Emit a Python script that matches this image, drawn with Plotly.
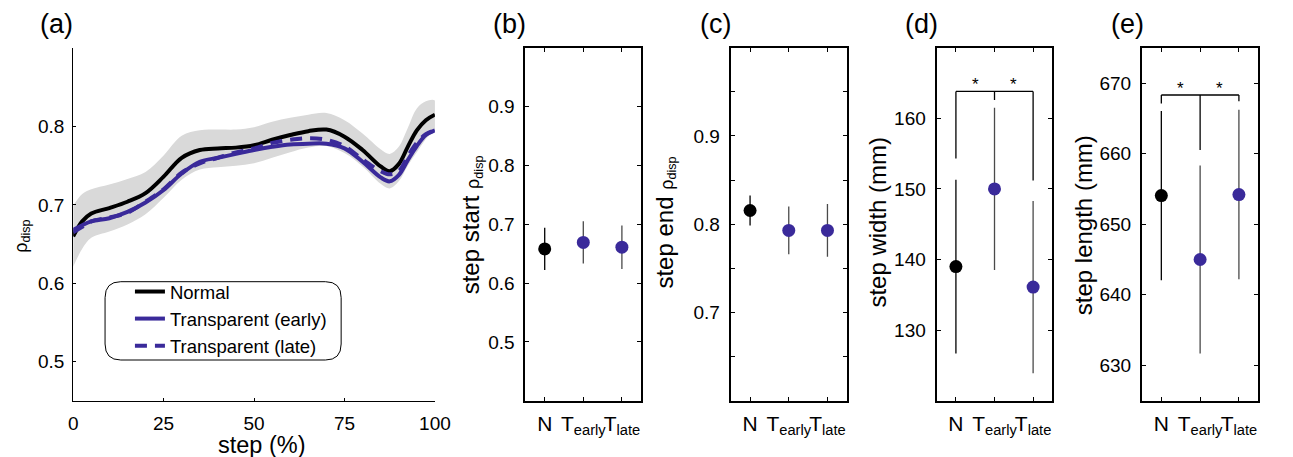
import plotly.graph_objects as go

W, H = 1293, 457
FONT = "Liberation Sans, Arial, Helvetica, sans-serif"
BLUE = "#3a2a9a"
BAND = "#d9d9d9"
ERR_GRAY = "#4a4a4a"

# ---------------- data: panel (a) ----------------
step_pct = [0, 2.5, 5, 10, 15, 20, 25, 30, 35, 40, 45, 50, 55, 60, 65, 70,
            75, 80, 85, 87.5, 90, 92.5, 95, 97.5, 100]
normal_mean = [0.660, 0.679, 0.689, 0.696, 0.704, 0.715, 0.736, 0.760, 0.770,
               0.772, 0.773, 0.776, 0.783, 0.789, 0.794, 0.796, 0.787, 0.770,
               0.749, 0.743, 0.752, 0.774, 0.795, 0.808, 0.815]
normal_sd = [0.039, 0.035, 0.031, 0.030, 0.029, 0.027, 0.027, 0.028, 0.025,
             0.024, 0.023, 0.023, 0.023, 0.022, 0.021, 0.021, 0.021, 0.021,
             0.022, 0.022, 0.022, 0.024, 0.028, 0.024, 0.018]
early_mean = [0.668, 0.674, 0.679, 0.683, 0.691, 0.703, 0.719, 0.740, 0.755,
              0.760, 0.765, 0.770, 0.774, 0.777, 0.778, 0.778, 0.772, 0.755,
              0.735, 0.730, 0.738, 0.757, 0.775, 0.789, 0.795]
late_mean = [0.665, 0.672, 0.679, 0.684, 0.690, 0.704, 0.720, 0.741, 0.753,
             0.760, 0.767, 0.772, 0.779, 0.783, 0.785, 0.783, 0.775, 0.758,
             0.743, 0.739, 0.743, 0.762, 0.779, 0.790, 0.795]

# ---------------- data: panels (b)-(e) ----------------
cat_pos = [1, 2, 3]
cat_labels = ["N", "T<sub>early</sub>", "T<sub>late</sub>"]

start_mean = [0.658, 0.669, 0.661]
start_err = [0.036, 0.036, 0.037]
end_mean = [0.8155, 0.793, 0.793]
end_err = [0.017, 0.027, 0.030]
width_mean = [139.0, 150.0, 136.1]
width_err = [12.3, 11.5, 12.2]
length_mean = [654.05, 645.0, 654.2]
length_err = [12.0, 13.3, 12.0]

width_bracket_y = 163.8
width_bracket_ends = [154.3, 162.6, 151.2]
length_bracket_y = 668.3
length_bracket_ends = [667.1, 660.5, 667.4]


def xd(l, r):
    return [l / W, r / W]


def yd(t, b):
    return [1 - b / H, 1 - t / H]


fig = go.Figure()

# ---- panel (a) ----
upper = [m + s for m, s in zip(normal_mean, normal_sd)]
lower = [m - s for m, s in zip(normal_mean, normal_sd)]
fig.add_trace(go.Scatter(
    x=step_pct + step_pct[::-1], y=upper + lower[::-1],
    fill="toself", fillcolor=BAND, line=dict(width=0, shape="spline"),
    mode="lines", showlegend=False, hoverinfo="skip", xaxis="x", yaxis="y"))
fig.add_trace(go.Scatter(
    x=step_pct, y=normal_mean, mode="lines", name="Normal",
    line=dict(color="black", width=4, shape="spline"), xaxis="x", yaxis="y"))
fig.add_trace(go.Scatter(
    x=step_pct, y=early_mean, mode="lines", name="Transparent (early)",
    line=dict(color=BLUE, width=4, shape="spline"), xaxis="x", yaxis="y"))
fig.add_trace(go.Scatter(
    x=step_pct, y=late_mean, mode="lines", name="Transparent (late)",
    line=dict(color=BLUE, width=4, shape="spline", dash="12px,8px"),
    xaxis="x", yaxis="y"))

# ---- panels (b)-(e) ----
panels = [
    ("x2", "y2", start_mean, start_err),
    ("x3", "y3", end_mean, end_err),
    ("x4", "y4", width_mean, width_err),
    ("x5", "y5", length_mean, length_err),
]
for xa, ya, mean, err in panels:
    fig.add_trace(go.Scatter(
        x=cat_pos[:1], y=mean[:1], mode="markers", showlegend=False,
        marker=dict(color="black", size=13),
        error_y=dict(type="data", array=err[:1], color="black",
                     thickness=1.3, width=0),
        xaxis=xa, yaxis=ya))
    fig.add_trace(go.Scatter(
        x=cat_pos[1:], y=mean[1:], mode="markers", showlegend=False,
        marker=dict(color=BLUE, size=13),
        error_y=dict(type="data", array=err[1:], color=ERR_GRAY,
                     thickness=1.3, width=0),
        xaxis=xa, yaxis=ya))

shapes = []
annotations = []
for xa, ya, by, ends in [("x4", "y4", width_bracket_y, width_bracket_ends),
                         ("x5", "y5", length_bracket_y, length_bracket_ends)]:
    shapes.append(dict(type="line", xref=xa, yref=ya, x0=cat_pos[0], x1=cat_pos[2],
                       y0=by, y1=by, line=dict(color="black", width=1.3)))
    for cx, e in zip(cat_pos, ends):
        shapes.append(dict(type="line", xref=xa, yref=ya, x0=cx, x1=cx,
                           y0=by, y1=e, line=dict(color="black", width=1.3)))
    for ax_ in [1.5, 2.5]:
        annotations.append(dict(x=ax_, y=by, xref=xa, yref=ya, text="*",
                                showarrow=False, yanchor="bottom", yshift=-5,
                                font=dict(size=17, color="black", family=FONT)))

# rounded legend box (pixel geometry -> paper)
L, R, T, B, r = 101.7, 341.7, 281.7, 360.0, 16


def px(p):
    return p / W


def py(p):
    return 1 - p / H


path = (f"M {px(L + r)},{py(T)} L {px(R - r)},{py(T)} Q {px(R)},{py(T)} {px(R)},{py(T + r)} "
        f"L {px(R)},{py(B - r)} Q {px(R)},{py(B)} {px(R - r)},{py(B)} "
        f"L {px(L + r)},{py(B)} Q {px(L)},{py(B)} {px(L)},{py(B - r)} "
        f"L {px(L)},{py(T + r)} Q {px(L)},{py(T)} {px(L + r)},{py(T)} Z")
shapes.append(dict(type="path", xref="paper", yref="paper", path=path,
                   line=dict(color="black", width=1), fillcolor="rgba(0,0,0,0)"))


def ann(text, x, y, size, angle=0):
    annotations.append(dict(text=text, x=px(x), y=py(y), xref="paper", yref="paper",
                            showarrow=False, textangle=angle, xanchor="center",
                            yanchor="middle", font=dict(size=size, color="black", family=FONT)))


ann("(a)", 52.3, 24, 27)
ann("(b)", 513.3, 24, 27)
ann("(c)", 722.3, 24, 27)
ann("(d)", 931.7, 24, 27)
ann("(e)", 1140.7, 24, 27)
ann("step (%)", 261.7, 445, 23.5)
ann("ρ<sub>disp</sub>", 17, 236, 18, -90)
ann("step start <span style='font-size:18px'>ρ<sub>disp</sub></span>", 474, 225, 24, -90)
ann("step end <span style='font-size:18px'>ρ<sub>disp</sub></span>", 671.5, 223, 24, -90)
ann("step width (mm)", 886, 222, 24, -90)
ann("step length (mm)", 1096, 225, 24, -90)

tickfont = dict(size=19, color="black", family=FONT)
catfont = dict(size=21, color="black", family=FONT)

layout = dict(
    width=W, height=H, margin=dict(l=0, r=0, t=0, b=0),
    paper_bgcolor="white", plot_bgcolor="white",
    font=dict(family=FONT, color="black"),
    shapes=shapes, annotations=annotations,
    showlegend=True,
    legend=dict(x=px(127), y=py(273), xanchor="left", yanchor="top",
                bgcolor="rgba(0,0,0,0)", borderwidth=0,
                font=dict(size=18.5, color="black", family=FONT),
                tracegroupgap=0),
    xaxis=dict(domain=xd(69.3, 437), range=[0, 100], tickvals=[0, 25, 50, 75, 100],
               ticks="inside", ticklen=3, tickcolor="black", showline=True,
               linecolor="black", linewidth=1, showgrid=False, zeroline=False,
               tickfont=tickfont, anchor="y", ticklabelstandoff=5, tickangle=0),
    yaxis=dict(domain=yd(48, 401), range=[0.45, 0.9], tickvals=[0.5, 0.6, 0.7, 0.8],
               ticktext=["0.5", "0.6", "0.7", "0.8"],
               ticks="inside", ticklen=3, tickcolor="black", showline=True,
               linecolor="black", linewidth=1, showgrid=False, zeroline=False,
               tickfont=tickfont, anchor="x", ticklabelstandoff=4),
)

box_specs = [
    (2, (529, 646.7), [0.4, 1.0], [0.5, 0.6, 0.7, 0.8, 0.9], ["0.5", "0.6", "0.7", "0.8", "0.9"]),
    (3, (737.7, 855.7), [0.6, 1.0], [0.65, 0.7, 0.75, 0.8, 0.85, 0.9, 0.95],
     ["", "0.7", "", "0.8", "", "0.9", ""]),
    (4, (947, 1064.7), [120, 170], [130, 140, 150, 160], ["130", "140", "150", "160"]),
    (5, (1155.7, 1274), [625, 675], [630, 640, 650, 660, 670], ["630", "640", "650", "660", "670"]),
]
for i, (lft, rgt), yr, tv, tt in box_specs:
    layout[f"xaxis{i}"] = dict(domain=xd(lft, rgt), range=[0.5, 3.5], tickvals=cat_pos,
                               ticktext=cat_labels, ticks="inside", ticklen=4,
                               tickcolor="black", showline=True, mirror="allticks",
                               linecolor="black", linewidth=2, showgrid=False,
                               zeroline=False, tickfont=catfont, anchor=f"y{i}",
                               ticklabelstandoff=3, tickangle=0)
    layout[f"yaxis{i}"] = dict(domain=yd(47.7, 400.7), range=yr, tickvals=tv, ticktext=tt,
                               ticks="inside", ticklen=4, tickcolor="black",
                               showline=True, mirror="allticks", linecolor="black",
                               linewidth=2, showgrid=False, zeroline=False,
                               tickfont=tickfont, anchor=f"x{i}", ticklabelstandoff=5)

fig.update_layout(**layout)
fig.write_html("out.html")
